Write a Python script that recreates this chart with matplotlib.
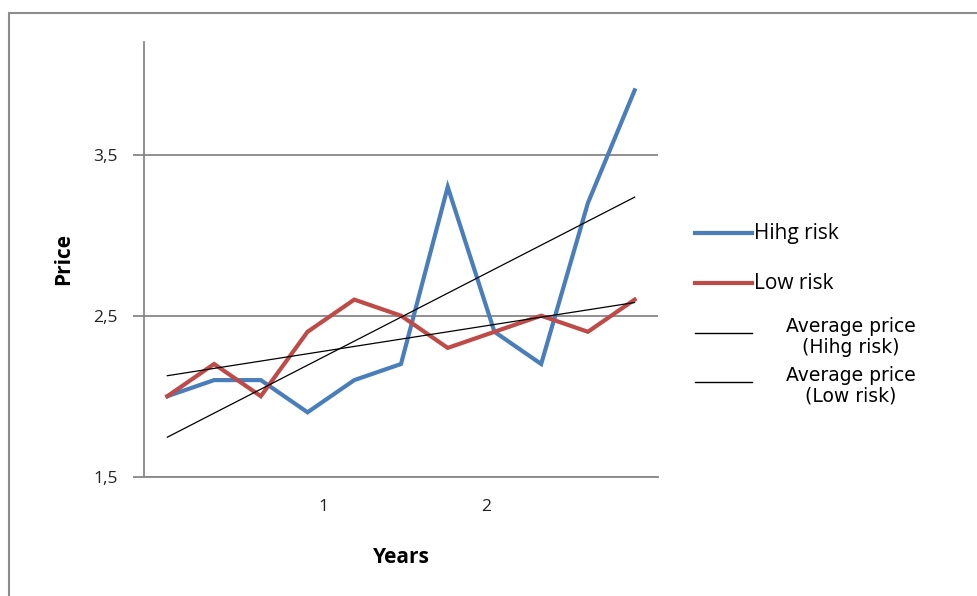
import numpy as np
import matplotlib
matplotlib.use("Agg")
import matplotlib.pyplot as plt
from matplotlib.lines import Line2D
from matplotlib.patches import Rectangle

# prices per period for both portfolios
high_risk = [2.0, 2.1, 2.1, 1.9, 2.1, 2.2, 3.3, 2.4, 2.2, 3.2, 3.9]
low_risk = [2.0, 2.2, 2.0, 2.4, 2.6, 2.5, 2.3, 2.4, 2.5, 2.4, 2.6]
year_ticks = [3.33, 6.83]
year_labels = ["1", "2"]
price_ticks = [1.5, 2.5, 3.5]
price_labels = ["1,5", "2,5", "3,5"]

BLUE = "#4a7ebb"
RED = "#be4b48"
GRID = "#878787"

x = np.arange(len(high_risk))
fit_high = np.polyval(np.polyfit(x, high_risk, 1), x)
fit_low = np.polyval(np.polyfit(x, low_risk, 1), x)

plt.rcParams["font.family"] = ["Open Sans", "DejaVu Sans"]

fig = plt.figure(figsize=(9.78, 5.96), dpi=100)
fig.add_artist(Rectangle((9 / 978, -0.1), 1.2, 1.1 - 13 / 596, transform=fig.transFigure,
                         fill=False, edgecolor="#8c8c8c", linewidth=1.5))

ax = fig.add_axes([144 / 978, 1 - 476.7 / 596, 514 / 978, (476.7 - 42) / 596])
ax.set_xlim(-0.5, 10.5)
ax.set_ylim(1.5, 4.2)

for p in price_ticks:
    ax.axhline(p, color=GRID, linewidth=1.3, zorder=1)

ax.plot(x, high_risk, color=BLUE, linewidth=3.0, solid_joinstyle="miter", zorder=3)
ax.plot(x, low_risk, color=RED, linewidth=3.0, solid_joinstyle="miter", zorder=3)
ax.plot(x, fit_high, color="black", linewidth=0.9, zorder=4)
ax.plot(x, fit_low, color="black", linewidth=0.9, zorder=4)

for s in ["top", "right"]:
    ax.spines[s].set_visible(False)
for s in ["left", "bottom"]:
    ax.spines[s].set_color(GRID)
    ax.spines[s].set_linewidth(1.3)

ax.set_yticks(price_ticks)
ax.set_yticklabels(price_labels, fontsize=12.5, color="#222222")
ax.tick_params(axis="y", length=8, width=1.3, color=GRID, pad=11)
ax.set_xticks(year_ticks)
ax.set_xticklabels(year_labels, fontsize=12.5, color="#222222")
ax.tick_params(axis="x", length=0, pad=16)

ax.set_xlabel("Years", fontsize=15, fontweight="bold", labelpad=23)
ax.set_ylabel("Price", fontsize=15, fontweight="bold", labelpad=14)

# legend drawn by hand
def fx(px):
    return px / 978

def fy(py):
    return 1 - py / 596

entries = [
    (233, BLUE, 3.0, "Hihg risk", None),
    (283, RED, 3.0, "Low risk", None),
    (333, "black", 1.0, None, "Average price\n(Hihg risk)"),
    (382, "black", 1.0, None, "Average price\n(Low risk)"),
]
for py, col, lw, label, block in entries:
    fig.add_artist(Line2D([fx(695), fx(752)], [fy(py), fy(py)], color=col, linewidth=lw,
                          transform=fig.transFigure))
    if label:
        fig.text(fx(754), fy(py), label, fontsize=15, va="center", ha="left")
    else:
        fig.text(fx(851), fy(py + 4), block, fontsize=13.5, va="center", ha="center",
                 linespacing=1.1, family=["DejaVu Sans"])

fig.savefig("out.png", dpi=100)
